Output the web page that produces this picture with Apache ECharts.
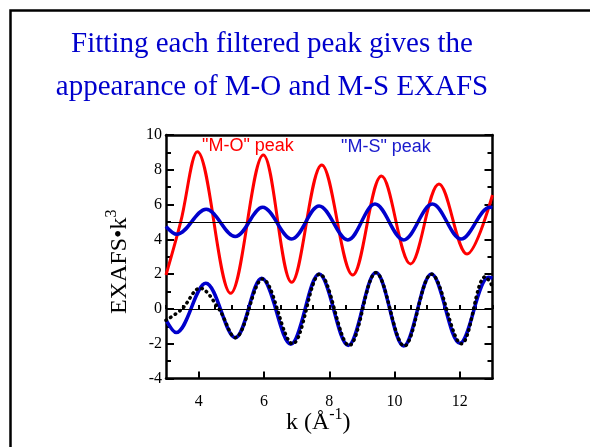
<!DOCTYPE html>
<html><head><meta charset="utf-8">
<script src="https://cdn.jsdelivr.net/npm/echarts@6/dist/echarts.min.js"></script>
<style>html,body{margin:0;padding:0;background:#fff}#c{width:590px;height:447px}</style>
</head><body><div id="c"></div>
<script>
// ---- text ----
const titleLines = ['Fitting each filtered peak gives the', 'appearance of M-O and M-S EXAFS'];
const peakLabels = ['"M-O" peak', '"M-S" peak'];
// ---- axes ----
const xTickValues = [4, 6, 8, 10, 12];
const yTickValues = [-4, -2, 0, 2, 4, 6, 8, 10];
const refLines = [5, 0];
// ---- series (k, EXAFS*k^3): edge values and read peaks / troughs ----
const moPeak = [[3.0,1.95],[3.45,5.0],[3.96,9.04],[4.98,0.90],[5.98,8.85],[6.85,1.53],[7.77,8.28],[8.72,1.95],[9.60,7.64],[10.49,2.59],[11.36,7.18],[12.22,3.16],[13.0,6.55]];
const msPeak = [[3.0,4.74],[3.33,4.29],[4.23,5.73],[5.12,4.16],[5.96,5.84],[6.85,4.02],[7.69,5.92],[8.57,3.97],[9.40,6.03],[10.28,3.97],[11.16,6.03],[12.04,4.02],[12.92,5.85],[13.0,5.83]];
const msFit = [[3.0,-0.63],[3.31,-1.36],[4.22,1.48],[5.12,-1.65],[5.93,1.76],[6.82,-2.03],[7.69,2.01],[8.58,-2.1],[9.43,2.09],[10.28,-2.13],[11.13,2.01],[12.0,-1.97],[12.88,1.82],[13.0,1.78]];
const msData = [[3.0,-0.65],[3.49,0.0],[4.04,1.19],[4.62,0.0],[5.12,-1.65],[5.96,1.72],[6.88,-2.0],[7.71,2.0],[8.61,-2.1],[9.43,2.08],[10.3,-2.13],[11.13,2.0],[12.05,-2.0],[12.78,1.85],[13.0,1.3]];

const SERIF = "'Liberation Serif','Times New Roman',serif";
const SANS = "'Liberation Sans',Arial,sans-serif";
const BLUE = '#0000cc';
const RED = '#ff0000';

const chart = echarts.init(document.getElementById('c'), null, {renderer: 'canvas'});

const axisLine = {show: true, onZero: false, lineStyle: {color: '#000', width: 2.5}};
const nameRich = {
  a: {fontFamily: SERIF, fontSize: 24, color: '#000', lineHeight: 32},
  sup: {fontFamily: SERIF, fontSize: 16, color: '#000', verticalAlign: 'top', lineHeight: 16}
};

function line(name, data, color, width, extra) {
  return Object.assign({
    name, type: 'line', data, smooth: 0.36, symbol: 'none', showSymbol: false,
    xAxisIndex: 0, yAxisIndex: 0, lineStyle: {color, width}, silent: true
  }, extra || {});
}

chart.setOption({
  animation: false,
  backgroundColor: '#fff',
  grid: {left: 166, top: 135, width: 326.5, height: 243.5, containLabel: false},
  xAxis: [
    {type: 'value', position: 'bottom', min: 3, max: 13, interval: 1,
     axisLine,
     axisTick: {show: true, inside: true, length: 7, customValues: xTickValues, lineStyle: {color: '#000', width: 2}},
     axisLabel: {customValues: xTickValues, margin: 15, color: '#000', fontFamily: SERIF, fontSize: 16},
     splitLine: {show: false},
     name: '{a|k (Å}{sup|-1}{a|)}', nameLocation: 'middle', nameGap: 28, nameMoveOverlap: false,
     nameTextStyle: {rich: nameRich, padding: [0, 22, 0, 0]}},
    {type: 'value', position: 'bottom', min: 3, max: 13, interval: 0.5,
     axisLine: {show: false},
     axisTick: {show: true, inside: true, length: 4, lineStyle: {color: '#000', width: 2}},
     axisLabel: {show: false}, splitLine: {show: false}},
    {type: 'value', position: 'top', min: 3, max: 13,
     axisLine, axisTick: {show: false}, axisLabel: {show: false}, splitLine: {show: false}}
  ],
  yAxis: [
    {type: 'value', position: 'left', min: -4, max: 10, interval: 2,
     axisLine,
     axisTick: {show: true, inside: true, length: 8, lineStyle: {color: '#000', width: 2}},
     minorTick: {show: true, splitNumber: 2, length: 5, lineStyle: {color: '#000', width: 2}},
     axisLabel: {margin: 4, color: '#000', fontFamily: SERIF, fontSize: 16},
     splitLine: {show: false},
     name: '{a|EXAFS•k}{sup|3}', nameLocation: 'middle', nameGap: 30,
     nameTextStyle: {rich: nameRich, padding: [0, 10, 0, 0]}},
    {type: 'value', position: 'right', min: -4, max: 10, interval: 2,
     axisLine,
     axisTick: {show: true, inside: true, length: 8, lineStyle: {color: '#000', width: 2}},
     minorTick: {show: true, splitNumber: 2, length: 5, lineStyle: {color: '#000', width: 2}},
     axisLabel: {show: false}, splitLine: {show: false}}
  ],
  series: [
    line('ref', [], '#000', 1, {
      markLine: {silent: true, symbol: 'none', label: {show: false},
        lineStyle: {color: '#000', width: 1, type: 'solid'},
        data: refLines.map(v => ({yAxis: v}))}
    }),
    line('M-O peak', moPeak, RED, 3),
    line('M-S peak', msPeak, BLUE, 3.5),
    line('M-S fit', msFit, BLUE, 3.5),
    line('M-S filtered', msData, '#000', 3.5, {lineStyle: {color: '#000', width: 3.5, type: [0.5, 5], cap: 'round'}})
  ],
  graphic: [
    {type: 'rect', shape: {x: 10.5, y: 10.5, width: 700, height: 600}, style: {fill: null, stroke: '#000', lineWidth: 2.5}, silent: true},
    {type: 'text', x: 272, y: 44.5, style: {text: titleLines[0], font: "29px " + SERIF, fill: BLUE, align: 'center', verticalAlign: 'middle'}, silent: true},
    {type: 'text', x: 272, y: 87, style: {text: titleLines[1], font: "29px " + SERIF, fill: BLUE, align: 'center', verticalAlign: 'middle'}, silent: true},
    {type: 'text', x: 202, y: 146, style: {text: peakLabels[0], font: "18px " + SANS, fill: RED, align: 'left', verticalAlign: 'middle'}, silent: true},
    {type: 'text', x: 341, y: 147, style: {text: peakLabels[1], font: "18px " + SANS, fill: '#1a1acc', align: 'left', verticalAlign: 'middle'}, silent: true}
  ]
});
</script></body></html>
